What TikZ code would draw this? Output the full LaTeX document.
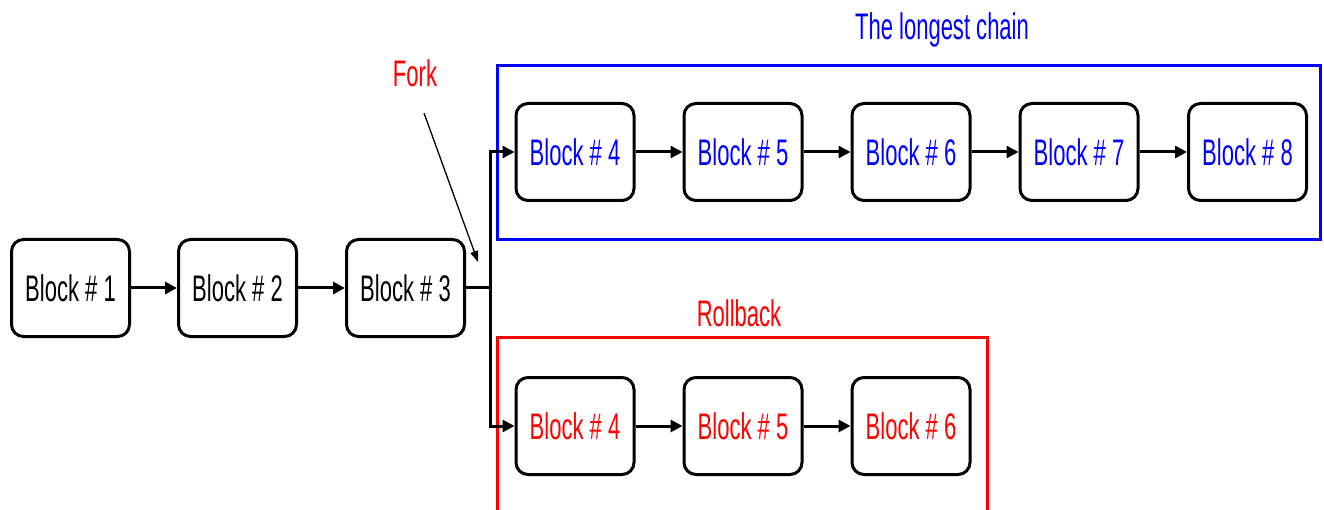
\documentclass[tikz,border=0pt]{standalone}
\usepackage{fontspec}
\setmainfont{Liberation Sans}[FakeStretch=0.595]
\usetikzlibrary{arrows.meta}
\definecolor{chainblue}{RGB}{0,0,255}
\definecolor{rollred}{RGB}{255,0,0}
\begin{document}
\begin{tikzpicture}[x=1pt,y=-1pt,
  block/.style={draw, line width=3pt, rounded corners=12pt, minimum width=118pt,
    minimum height=97pt, inner sep=0pt, font=\fontsize{37}{40}\selectfont},
  link/.style={line width=3pt, line join=miter, -{Triangle[length=12pt,width=12pt]}},
  caption/.style={font=\fontsize{37}{40}\selectfont},
  frame/.style={line width=3pt}]
\useasboundingbox (0,0) rectangle (1324,510);
\clip (0,0) rectangle (1324,510);
% main chain
\node[block] (b1) at (70.5,288) {Block \# 1};
\node[block] (b2) at (237.5,288) {Block \# 2};
\node[block] (b3) at (405.5,288) {Block \# 3};
% longest chain
\node[block, text=chainblue] (t4) at (575,152) {Block \# 4};
\node[block, text=chainblue] (t5) at (743,152) {Block \# 5};
\node[block, text=chainblue] (t6) at (911,152) {Block \# 6};
\node[block, text=chainblue] (t7) at (1079,152) {Block \# 7};
\node[block, text=chainblue] (t8) at (1247.5,152) {Block \# 8};
% orphaned branch
\node[block, text=rollred] (r4) at (575,426) {Block \# 4};
\node[block, text=rollred] (r5) at (743,426) {Block \# 5};
\node[block, text=rollred] (r6) at (911,426) {Block \# 6};
% group frames
\draw[frame, chainblue] (497,66) rectangle (1320,240);
\draw[frame, rollred] (497,337) rectangle (987,540);
\node[caption, text=chainblue] (lc) at (942,30) {The longest chain};
\node[caption, text=rollred] (rb) at (739,313) {Rollback};
% links
\draw[link] (b1) -- (b2);
\draw[link] (b2) -- (b3);
\coordinate (j) at (490,288);
\draw[line width=3pt] (b3.east) -- (j);
\draw[link] (j) |- (t4.west);
\draw[link] (j) |- (r4.west);
\draw[link] (t4) -- (t5);
\draw[link] (t5) -- (t6);
\draw[link] (t6) -- (t7);
\draw[link] (t7) -- (t8);
\draw[link] (r4) -- (r5);
\draw[link] (r5) -- (r6);
% fork marker
\node[caption, text=rollred] (fork) at (415,73) {Fork};
\coordinate (fs) at (424,113);
\coordinate (fe) at (478,262);
\draw[line width=1.3pt, -{Triangle[length=11pt,width=8pt]}] (fs) -- (fe);
\end{tikzpicture}
\end{document}
